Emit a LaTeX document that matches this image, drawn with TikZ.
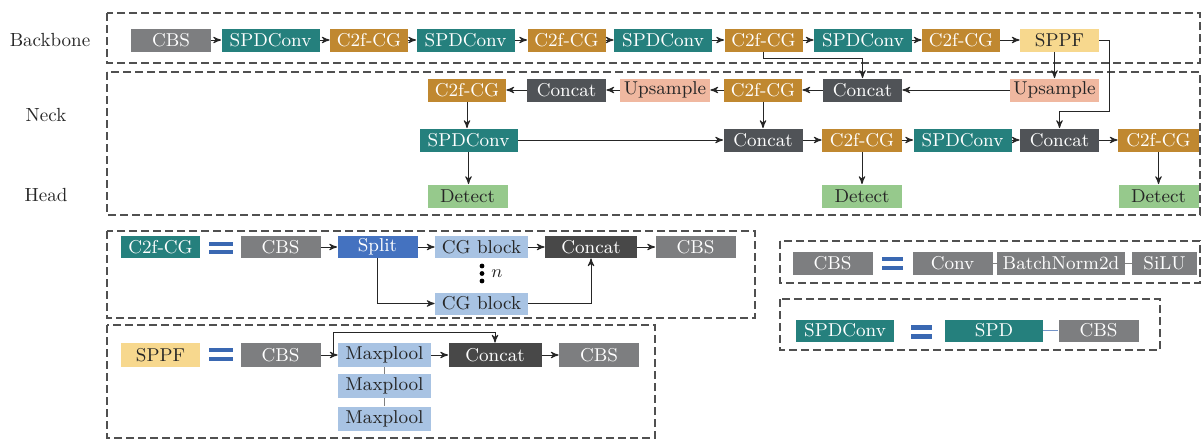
\documentclass[tikz,border=0pt]{standalone}
\usepackage{tikz}
\usepackage{xcolor}
\usetikzlibrary{arrows,shapes,positioning,calc}

\definecolor{cbsgray}{HTML}{7D7E80}
\definecolor{spdteal}{HTML}{25807D}
\definecolor{cgorange}{HTML}{C08830}
\definecolor{sppfyellow}{HTML}{F7D88E}
\definecolor{concatgray}{HTML}{505357}
\definecolor{upcolor}{HTML}{F0B8A0}
\definecolor{detgreen}{HTML}{96C98C}
\definecolor{splitblue}{HTML}{4472C0}
\definecolor{cgblue}{HTML}{A8C3E3}
\definecolor{darkconcat}{HTML}{484848}
\definecolor{eqblue}{HTML}{3A68B2}
\definecolor{framegray}{HTML}{505050}

\begin{document}
\begin{tikzpicture}[x=0.5pt, y=-0.5pt,
    blk/.style={minimum height=11.5pt, inner sep=0pt, font=\fontsize{9.3}{11}\selectfont},
    cbs/.style={blk, fill=cbsgray, text=white, minimum width=40pt},
    spd/.style={blk, fill=spdteal, text=white, minimum width=49pt},
    cgf/.style={blk, fill=cgorange, text=white, minimum width=39pt},
    sppf/.style={blk, fill=sppfyellow, text=black!85, minimum width=39.5pt},
    cat/.style={blk, fill=concatgray, text=white, minimum width=39.5pt},
    ups/.style={blk, fill=upcolor, text=black!85, minimum width=45pt},
    det/.style={blk, fill=detgreen, text=black!85, minimum width=40pt},
    cgb/.style={blk, fill=cgblue, text=black!85, minimum width=46.5pt},
    frame/.style={draw=framegray, line width=1pt, dash pattern=on 4pt off 2pt},
    arr/.style={->, >=stealth', line width=0.5pt, black!85},
    lnk/.style={line width=0.5pt, black!85},
    lbl/.style={font=\fontsize{9.5}{11}\selectfont, text=black!85}]
    \useasboundingbox (0,0) rectangle (1202,439);

    % Frames
    \draw[frame] (107,13) rectangle (1200,63);
    \draw[frame] (107,72) rectangle (1200,215);
    \draw[frame] (107,231) rectangle (755,318);
    \draw[frame] (107,325) rectangle (655,438);
    \draw[frame] (780,241) rectangle (1200,283);
    \draw[frame] (780,299) rectangle (1160,350);

    % Part names
    \node[lbl] (backbone) at (50,40) {Backbone};
    \node[lbl] (neck) at (46,115) {Neck};
    \node[lbl] (head) at (46,195) {Head};

    % Backbone
    \node[cbs] (b1) at (171,40) {CBS};
    \node[spd] (b2) at (270.5,40) {SPDConv};
    \node[cgf] (b3) at (369,40) {C2f-CG};
    \node[spd] (b4) at (465.5,40) {SPDConv};
    \node[cgf] (b5) at (566.5,40) {C2f-CG};
    \node[spd] (b6) at (663,40) {SPDConv};
    \node[cgf] (b7) at (763.5,40) {C2f-CG};
    \node[spd] (b8) at (863,40) {SPDConv};
    \node[cgf] (b9) at (961,40) {C2f-CG};
    \node[sppf] (b10) at (1059.5,40) {SPPF};

    % Neck, upper row
    \node[cgf] (n1) at (467,90) {C2f-CG};
    \node[cat] (n2) at (566.5,90) {Concat};
    \node[ups] (n3) at (665,90) {Upsample};
    \node[cgf] (n4) at (763,90) {C2f-CG};
    \node[cat] (n5) at (862.5,90) {Concat};
    \node[ups, minimum width=44.5pt] (n6) at (1054.5,90) {Upsample};

    % Neck, lower row
    \node[spd] (m1) at (468.5,140) {SPDConv};
    \node[cat] (m2) at (763,140) {Concat};
    \node[cgf, minimum width=40pt] (m3) at (862,140) {C2f-CG};
    \node[spd] (m4) at (962.5,140) {SPDConv};
    \node[cat] (m5) at (1059.5,140) {Concat};
    \node[cgf, minimum width=40.5pt] (m6) at (1158.5,140) {C2f-CG};

    % Head
    \node[det] (d1) at (467.5,196) {Detect};
    \node[det] (d2) at (862,196) {Detect};
    \node[det] (d3) at (1158.5,196) {Detect};

    % Backbone chain
    \foreach \a/\b in {b1/b2,b2/b3,b3/b4,b4/b5,b5/b6,b6/b7,b7/b8,b8/b9,b9/b10}
        \draw[arr] (\a) -- (\b);

    % Backbone to neck
    \coordinate (t1) at (0,58);
    \coordinate (t2) at (1109,111);
    \draw[arr] (b7.south) -- (b7.south |- t1) -| (n5.north);
    \draw[arr] (b10.south -| n6.north) -- (n6.north);
    \draw[arr] (b10.east) -| (t2) -| (m5.north);

    % Neck
    \foreach \a/\b in {n6/n5,n5/n4,n4/n3,n3/n2,n2/n1}
        \draw[arr] (\a) -- (\b);
    \draw[arr] (n1) -- (n1 |- m1.north);
    \draw[arr] (n4) -- (m2);
    \foreach \a/\b in {m1/m2,m2/m3,m3/m4,m4/m5,m5/m6}
        \draw[arr] (\a) -- (\b);

    % Head
    \draw[arr] (m1) -- (m1 |- d1.north);
    \draw[arr] (m3) -- (d2);
    \draw[arr] (m6) -- (d3);

    % C2f-CG block
    \node[spd, minimum width=39.5pt, minimum height=11pt] (l1) at (160.5,247) {C2f-CG};
    \fill[eqblue] (209,241.5) rectangle (233,245.5);
    \fill[eqblue] (209,249.5) rectangle (233,253.5);
    \node[cbs, minimum height=11pt] (l2) at (280.5,247) {CBS};
    \node[cbs, fill=splitblue, minimum height=11pt] (l3) at (377.5,247) {Split};
    \node[cgb, minimum height=11pt] (l4) at (481.5,247) {CG block};
    \node[cat, fill=darkconcat, minimum width=46pt, minimum height=11pt] (l5) at (591,247) {Concat};
    \node[cbs, minimum height=11pt] (l6) at (695.5,247) {CBS};
    \node[cgb, minimum height=11pt] (l7) at (481.5,303.5) {CG block};
    \foreach \yy in {266,273.5,281}
        \fill (482,\yy) circle (1.2pt);
    \node[lbl] (rep) at (497,274) {$n$};
    \foreach \a/\b in {l2/l3,l3/l4,l4/l5,l5/l6}
        \draw[arr] (\a) -- (\b);
    \draw[arr] (l3.south) |- (l7.west);
    \draw[arr] (l7.east) -| (l5.south);

    % SPPF block
    \node[sppf, minimum height=12pt] (s1) at (160.5,355) {SPPF};
    \fill[eqblue] (209,348) rectangle (233,352);
    \fill[eqblue] (209,356.5) rectangle (233,360.5);
    \node[cbs, minimum height=12pt] (s2) at (280.5,355) {CBS};
    \node[cgb, minimum height=12pt] (s3) at (384.5,355) {Maxplool};
    \node[cgb, minimum height=12pt] (s4) at (384.5,386) {Maxplool};
    \node[cgb, minimum height=12pt] (s5) at (384.5,418.5) {Maxplool};
    \node[cat, fill=darkconcat, minimum width=46.5pt, minimum height=12pt] (s6) at (495,355) {Concat};
    \node[cbs, minimum height=12pt] (s7) at (599,355) {CBS};
    \coordinate (q1) at (333,355);
    \coordinate (q2) at (333,332);
    \draw[lnk] (s2.east) -- (q1);
    \draw[arr] (q1) -- (s3.west);
    \draw[arr] (q1) -- (q2) -| (s6.north);
    \draw[arr] (s3) -- (s6);
    \draw[arr] (s6) -- (s7);
    \draw[lnk, line width=0.3pt, black!50] (s3.south) -- (s4.north);
    \draw[lnk, line width=0.3pt, black!50] (s4.south) -- (s5.north);

    % CBS block
    \node[cbs] (c1) at (832.5,263.5) {CBS};
    \fill[eqblue] (882,256.5) rectangle (903,260.5);
    \fill[eqblue] (882,266) rectangle (903,270);
    \node[cbs] (c2) at (952.5,263.5) {Conv};
    \node[cbs, minimum width=64pt] (c3) at (1061,263.5) {BatchNorm2d};
    \node[cbs, minimum width=32.5pt] (c4) at (1164.5,263.5) {SiLU};
    \draw[lnk, line width=0.3pt, black!50] (c2) -- (c3);
    \draw[lnk, line width=0.3pt, black!50] (c3) -- (c4);

    % SPDConv block
    \node[spd, minimum height=11pt] (p1) at (845,330.5) {SPDConv};
    \fill[eqblue] (911,325) rectangle (932,329.5);
    \fill[eqblue] (911,334) rectangle (932,338.5);
    \node[spd, minimum height=11pt] (p2) at (994,330.5) {SPD};
    \node[cbs, minimum height=11pt] (p3) at (1098.5,330.5) {CBS};
    \draw[lnk, line width=0.5pt, eqblue!70] (p2) -- (p3);
\end{tikzpicture}
\end{document}
